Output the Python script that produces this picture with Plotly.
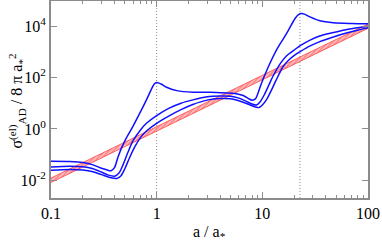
import plotly.graph_objects as go

# a / a_*  and log10( sigma_AD^(el) / 8 pi a_*^2 )
a1 = [0.1, 0.15, 0.2, 0.25, 0.3, 0.33, 0.37, 0.40, 0.43, 0.47, 0.52, 0.6, 0.7, 0.8, 0.9, 0.95, 1.0,
      1.1, 1.24, 1.55, 2.2, 3.2, 4.6, 5.5, 6.6, 7.4, 8.0, 8.6, 9.2, 9.8, 11.4, 13.6, 17, 20.4, 22,
      23.5, 25, 28.2, 35, 47, 70, 100]
logs1 = [-1.26, -1.27, -1.31, -1.40, -1.53, -1.58, -1.63, -1.50, -1.10, -0.70, -0.33, 0.12, 0.65,
         1.13, 1.58, 1.75, 1.81, 1.75, 1.62, 1.49, 1.43, 1.43, 1.40, 1.38, 1.30, 1.18, 1.12, 1.17,
         1.45, 1.77, 2.42, 3.07, 3.72, 4.30, 4.45, 4.49, 4.47, 4.36, 4.21, 4.13, 4.10, 4.09]

a2 = [0.1, 0.15, 0.2, 0.25, 0.3, 0.35, 0.40, 0.44, 0.48, 0.53, 0.6, 0.7, 0.8, 1.0, 1.3, 1.7, 2.2,
      3.0, 4.0, 5.0, 6.0, 7.0, 8.0, 8.8, 9.5, 10.5, 11.5, 12.5, 13.6, 15, 17, 20, 23, 28, 35, 47,
      65, 100]
logs2 = [-1.48, -1.45, -1.47, -1.55, -1.68, -1.80, -1.84, -1.72, -1.40, -0.95, -0.45, -0.05, 0.22,
         0.52, 0.80, 1.00, 1.13, 1.25, 1.28, 1.27, 1.20, 1.08, 0.97, 0.93, 1.05, 1.35, 1.70, 2.02,
         2.30, 2.58, 2.85, 3.07, 3.25, 3.45, 3.62, 3.75, 3.88, 4.00]

a3 = [0.1, 0.15, 0.2, 0.25, 0.3, 0.36, 0.42, 0.46, 0.5, 0.55, 0.62, 0.7, 0.8, 1.0, 1.3, 1.7, 2.2,
      3.0, 4.0, 5.0, 6.0, 7.0, 8.0, 9.3, 10, 11, 12, 13.5, 15.7, 18, 21, 23, 28, 35, 47, 65, 100]
logs3 = [-1.61, -1.58, -1.60, -1.67, -1.78, -1.89, -1.93, -1.82, -1.55, -1.15, -0.70, -0.35, -0.08,
         0.22, 0.50, 0.75, 0.95, 1.12, 1.18, 1.17, 1.10, 1.00, 0.90, 0.83, 0.93, 1.15, 1.45, 1.90,
         2.42, 2.70, 2.92, 3.02, 3.22, 3.40, 3.58, 3.75, 3.94]

# red band (straight line in log-log), lower and upper edges
red_a = [0.1, 100]
red_lo = [0.0082, 8200]
red_hi = [0.0122, 12200]

# dotted reference positions
vlines = [1.0, 22.7]

# axis ticks
x_tickvals = [0.1, 1, 10, 100]
x_ticktext = ["0.1", "1", "10", "100"]
x_minor = [0.2, 0.3, 0.4, 0.5, 0.6, 0.7, 0.8, 0.9, 2, 3, 4, 5, 6, 7, 8, 9,
           20, 30, 40, 50, 60, 70, 80, 90]
y_tickvals = [1e-2, 1, 1e2, 1e4]
y_ticktext = ["10<sup>-2</sup>", "10<sup>0</sup>", "10<sup>2</sup>", "10<sup>4</sup>"]

FONT = "Liberation Serif, Times New Roman, serif"
GRAY = "#8c8c8c"

fig = go.Figure()

fig.add_trace(go.Scatter(x=red_a, y=red_lo, mode="lines",
                         line=dict(color="rgba(255,70,70,0.8)", width=1), showlegend=False))
fig.add_trace(go.Scatter(x=red_a, y=red_hi, mode="lines", fill="tonexty",
                         fillcolor="rgba(255,140,140,0.7)",
                         fillpattern=dict(shape="/", fgcolor="rgba(255,40,40,0.9)",
                                          bgcolor="rgba(255,170,170,0.7)", size=3, solidity=0.45),
                         line=dict(color="rgba(255,70,70,0.8)", width=1), showlegend=False))

for xs, ls in [(a1, logs1), (a2, logs2), (a3, logs3)]:
    fig.add_trace(go.Scatter(x=xs, y=[10 ** v for v in ls], mode="lines",
                             line=dict(color="#1010ff", width=1.5, shape="spline", smoothing=0.8),
                             showlegend=False))

for v in vlines:
    fig.add_vline(x=v, line=dict(color="#8a8a8a", width=1, dash="1px,2px"), layer="below")

fig.update_layout(
    width=382, height=245,
    margin=dict(l=51, r=14, t=1, b=47, autoexpand=False),
    paper_bgcolor="white", plot_bgcolor="white",
    font=dict(family=FONT, size=16, color="black"),
)
fig.update_xaxes(
    type="log", range=[-1, 2], automargin=False,
    tickvals=x_tickvals, ticktext=x_ticktext,
    ticks="inside", ticklen=6, tickcolor=GRAY, tickwidth=1,
    minor=dict(tickvals=x_minor, ticks="inside", ticklen=3, tickcolor=GRAY, showgrid=False),
    showline=True, linecolor=GRAY, linewidth=2, mirror="allticks",
    showgrid=False, zeroline=False,
    tickfont=dict(family=FONT, size=16, color="black"),
)
fig.update_yaxes(
    type="log", range=[-2.69, 4.98], automargin=False,
    tickvals=y_tickvals, ticktext=y_ticktext,
    ticks="inside", ticklen=6, tickcolor=GRAY, tickwidth=1,
    showline=True, linecolor=GRAY, linewidth=2, mirror="allticks",
    showgrid=False, zeroline=False,
    tickfont=dict(family=FONT, size=16, color="black"),
)

fig.add_annotation(text="a / a<sub>*</sub>", xref="paper", yref="paper",
                   x=0.5, y=-0.175, xanchor="center", yanchor="middle", showarrow=False,
                   font=dict(family=FONT, size=16, color="black"))
fig.add_annotation(text="σ<sup>(el)</sup><sub>AD</sub> / 8 π a<sub>*</sub><sup>2</sup>",
                   xref="paper", yref="paper", x=-0.107, y=0.49, xanchor="center",
                   yanchor="middle", textangle=-90, showarrow=False,
                   font=dict(family=FONT, size=16, color="black"))

fig.write_html("out.html", config={"displayModeBar": False},
               post_script="document.body.style.margin='0';document.body.style.padding='0';")
